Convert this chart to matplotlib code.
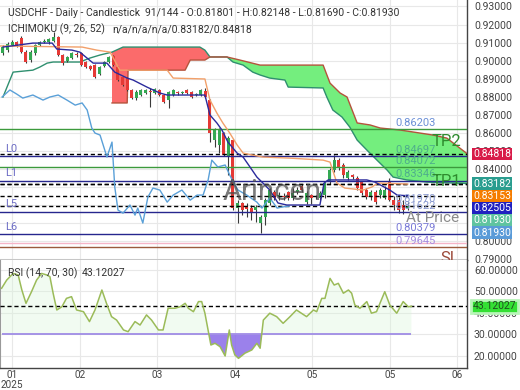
import numpy as np
import matplotlib
matplotlib.use("Agg")
import matplotlib.pyplot as plt
from matplotlib.transforms import blended_transform_factory

plt.rcParams['font.family'] = ['Roboto', 'DejaVu Sans']

# daily candles USDCHF
opens = [0.9042, 0.9058, 0.9086, 0.9103, 0.9125, 0.9047, 0.9003, 0.9042, 0.9086, 0.9103,
         0.9103, 0.9108, 0.9131, 0.9031, 0.8997, 0.9014, 0.9036, 0.9042, 0.8992, 0.8970,
         0.8975, 0.8925, 0.8970, 0.8992, 0.9025, 0.8964, 0.8909, 0.8903, 0.8837, 0.8792,
         0.8809, 0.8820, 0.8831, 0.8820, 0.8837, 0.8809, 0.8781, 0.8809, 0.8826, 0.8820,
         0.8837, 0.8826, 0.8809, 0.8809, 0.8831, 0.8781, 0.8559, 0.8532, 0.8598, 0.8465,
         0.8559, 0.8182, 0.8210, 0.8188, 0.8182, 0.8171, 0.8099, 0.8132, 0.8210, 0.8271,
         0.8249, 0.8249, 0.8271, 0.8238, 0.8271, 0.8304, 0.8215, 0.8254, 0.8249, 0.8238,
         0.8254, 0.8326, 0.8393, 0.8448, 0.8421, 0.8349, 0.8365, 0.8349, 0.8326, 0.8282,
         0.8243, 0.8271, 0.8254, 0.8238, 0.8326, 0.8226, 0.8226, 0.8199, 0.81801]
closes = [0.9075, 0.9092, 0.9103, 0.9086, 0.9047, 0.8992, 0.9047, 0.9086, 0.9103, 0.9108,
          0.9119, 0.9131, 0.9031, 0.8986, 0.9020, 0.9042, 0.9031, 0.8975, 0.8964, 0.8953,
          0.8909, 0.8964, 0.8992, 0.9020, 0.8975, 0.8892, 0.8864, 0.8837, 0.8792, 0.8826,
          0.8837, 0.8837, 0.8826, 0.8842, 0.8809, 0.8770, 0.8826, 0.8837, 0.8820, 0.8826,
          0.8820, 0.8798, 0.8815, 0.8837, 0.8798, 0.8598, 0.8615, 0.8615, 0.8476, 0.8570,
          0.8182, 0.8210, 0.8171, 0.8177, 0.8154, 0.8188, 0.8132, 0.8226, 0.8282, 0.8238,
          0.8254, 0.8243, 0.8238, 0.8265, 0.8282, 0.8282, 0.8265, 0.8238, 0.8243, 0.8265,
          0.8321, 0.8393, 0.8448, 0.8410, 0.8365, 0.8382, 0.8354, 0.8293, 0.8265, 0.8243,
          0.8271, 0.8215, 0.8282, 0.8282, 0.8226, 0.8199, 0.8171, 0.8171, 0.81930]
highs = [0.9086, 0.9103, 0.9114, 0.9108, 0.9136, 0.9058, 0.9058, 0.9092, 0.9108, 0.9119,
         0.9125, 0.9158, 0.9136, 0.9036, 0.9025, 0.9047, 0.9047, 0.9047, 0.8997, 0.8975,
         0.8981, 0.8970, 0.8997, 0.9025, 0.9031, 0.8970, 0.8914, 0.8909, 0.8842, 0.8837,
         0.8842, 0.8842, 0.8848, 0.8848, 0.8842, 0.8815, 0.8831, 0.8842, 0.8831, 0.8831,
         0.8842, 0.8831, 0.8820, 0.8842, 0.8848, 0.8787, 0.8626, 0.8626, 0.8604, 0.8581,
         0.8565, 0.8226, 0.8215, 0.8210, 0.8199, 0.8199, 0.8143, 0.8238, 0.8293, 0.8282,
         0.8271, 0.8265, 0.8276, 0.8293, 0.8299, 0.8315, 0.8276, 0.8260, 0.8254, 0.8276,
         0.8326, 0.8404, 0.8476, 0.8459, 0.8432, 0.8393, 0.8371, 0.8360, 0.8332, 0.8293,
         0.8282, 0.8282, 0.8293, 0.8304, 0.8348, 0.8249, 0.8243, 0.8226, 0.82148]
lows = [0.9031, 0.9047, 0.9081, 0.9075, 0.9042, 0.8986, 0.8992, 0.9031, 0.9081, 0.9097,
        0.9092, 0.9103, 0.9025, 0.8975, 0.8992, 0.9008, 0.9020, 0.8970, 0.8959, 0.8947,
        0.8903, 0.8920, 0.8964, 0.8986, 0.8970, 0.8887, 0.8859, 0.8831, 0.8787, 0.8781,
        0.8803, 0.8815, 0.8742, 0.8815, 0.8803, 0.8765, 0.8737, 0.8803, 0.8809, 0.8815,
        0.8815, 0.8792, 0.8803, 0.8803, 0.8792, 0.8548, 0.8520, 0.8487, 0.8470, 0.8365,
        0.8171, 0.8099, 0.8143, 0.8132, 0.8115, 0.8104, 0.8044, 0.8088, 0.8199, 0.8226,
        0.8226, 0.8226, 0.8226, 0.8226, 0.8260, 0.8271, 0.8204, 0.8204, 0.8232, 0.8226,
        0.8238, 0.8315, 0.8382, 0.8393, 0.8349, 0.8338, 0.8343, 0.8282, 0.8254, 0.8232,
        0.8226, 0.8204, 0.8238, 0.8232, 0.8221, 0.8171, 0.8154, 0.8149, 0.81690]

# ichimoku lines (bar index, price)
tenkan_x = [0, 6.5, 10.7, 11.7, 15.0, 16.7, 19.6, 22.6, 24.3, 27.0, 28.3, 31.3, 34.1, 35.7, 43.9,
            45.0, 46.5, 47.6, 48.9, 50.9, 52.2, 53.7, 55.2, 56.5, 58.0, 59.8, 61.7, 68.9, 69.8,
            70.7, 79.1, 80.9, 84.1, 85.7, 88.0]
tenkan_y = [0.9075, 0.9097, 0.9097, 0.9064, 0.9058, 0.9047, 0.8986, 0.8986, 0.8936, 0.8903,
            0.8892, 0.8853, 0.8820, 0.8809, 0.8809, 0.8698, 0.8654, 0.8615, 0.8548, 0.8487,
            0.8465, 0.8410, 0.8354, 0.8321, 0.8282, 0.8210, 0.8199, 0.8199, 0.8321, 0.8338,
            0.8338, 0.8326, 0.8282, 0.8254, 0.82505]
kijun_x = [-0.6, 17.2, 20.4, 23.3, 25.4, 35.7, 37.0, 43.9, 45.0, 46.5, 47.8, 49.3, 50.9, 52.2,
           54.3, 56.5, 62.4, 69.6, 71.1, 72.6, 74.3, 78.3, 80.2, 81.5, 88.0]
kijun_y = [0.9081, 0.9075, 0.9058, 0.9047, 0.8947, 0.8947, 0.8903, 0.8898, 0.8781, 0.8709,
           0.8654, 0.8598, 0.8532, 0.8487, 0.8476, 0.8465, 0.8459, 0.8448, 0.8437, 0.8321,
           0.8293, 0.8282, 0.8299, 0.8321, 0.83153]
chikou_x = [-0.2, 1.5, 3.0, 4.3, 6.5, 8.7, 10.2, 12.0, 13.9, 15.7, 17.2, 18.3, 19.3, 20.0, 21.1,
            22.6, 23.7, 24.3, 25.0, 26.1, 27.6, 28.7, 29.3, 30.4, 31.5, 32.6, 34.1, 35.7, 37.0,
            38.9, 40.7, 42.2, 43.5, 44.6, 45.4, 46.7, 48.3, 49.3, 50.4, 51.1, 53.0, 55.2, 56.3,
            58.0, 59.6, 60.7, 62.2]
chikou_y = [0.8798, 0.8837, 0.8814, 0.8792, 0.8809, 0.8781, 0.8798, 0.8809, 0.8781, 0.8753,
            0.8765, 0.8726, 0.8626, 0.8598, 0.8587, 0.8465, 0.8548, 0.8299, 0.8171, 0.8154,
            0.8199, 0.8143, 0.8182, 0.8099, 0.8243, 0.8293, 0.8282, 0.8215, 0.8254, 0.8282,
            0.8226, 0.8254, 0.8254, 0.8338, 0.8448, 0.8410, 0.8421, 0.8365, 0.8310, 0.8282,
            0.8254, 0.8215, 0.8182, 0.8238, 0.8182, 0.8188, 0.8193]
span_a_x = [0, 2.2, 6.5, 8.0, 9.6, 10.9, 16.7, 18.9, 21.1, 23.7, 26.1, 42.8, 43.9, 45.0, 48.7,
            50.0, 52.2, 54.3, 55.9, 58.0, 61.3, 62.0, 69.6, 70.4, 71.7, 73.7, 75.4, 77.0, 79.1,
            81.3, 83.5, 84.8, 87.8, 92.2, 101.0]
span_a_y = [0.8798, 0.8936, 0.8947, 0.8964, 0.8986, 0.8992, 0.8992, 0.9014, 0.9031, 0.9047,
            0.9075, 0.9075, 0.9058, 0.9020, 0.9020, 0.8992, 0.8975, 0.8936, 0.8920, 0.8903,
            0.8892, 0.8853, 0.8848, 0.8798, 0.8726, 0.8687, 0.8631, 0.8559, 0.8504, 0.8448,
            0.8393, 0.8354, 0.8338, 0.8326, 0.83182]
span_b_x = [23.7, 27.0, 27.2, 39.6, 40.7, 43.9, 45.0, 48.7, 51.5, 55.9, 69.6, 71.1, 73.3, 74.8,
            77.0, 79.8, 82.0, 86.3, 93.5, 96.5, 99.3, 101.0]
span_b_y = [0.8765, 0.8765, 0.8947, 0.8947, 0.9003, 0.9003, 0.9020, 0.9020, 0.9003, 0.8975,
            0.8975, 0.8875, 0.8820, 0.8798, 0.8654, 0.8643, 0.8626, 0.8615, 0.8587, 0.8570,
            0.8515, 0.84818]
cloud_cross = 45.0

# horizontal levels
navy_levels = [0.84697, 0.83346, 0.81622, 0.80379]
green_levels = [0.86203, 0.84072]
current_vals = [0.84818, 0.83182, 0.83153, 0.82505, 0.81930]
level_labels = [("0.86203", 0.86203, '#6b8fd6'), ("0.84697", 0.84697, '#4fae8c'),
                ("0.84072", 0.84072, '#4fae8c'), ("0.83346", 0.83346, '#4fae8c'),
                ("0.81970", 0.81970, '#8a9ad0'), ("0.81622", 0.81622, '#8a9ad0'),
                ("0.80379", 0.80379, '#7b7bd8'), ("0.79645", 0.79645, '#a68be0')]
side_labels = [("L0", 0.84697), ("L1", 0.83346), ("L5", 0.81622), ("L6", 0.80379)]

# right axis value boxes
box_vals = [0.84818, 0.83182, 0.83153, 0.82505, 0.81930, 0.81930]
box_cols = ['#d81b48', '#2a9d8f', '#f57c00', '#2020c0', '#5fc4a0', '#5a9bd8']

# RSI
rsi_x = [-0.3, 0.8, 2.2, 3.3, 4.1, 5.0, 6.2, 7.3, 8.4, 9.5, 10.2, 10.9, 11.7, 12.8, 13.8, 14.9,
         16.0, 17.5, 18.8, 20.0, 21.5, 22.5, 23.6, 24.7, 26.2, 27.2, 28.7, 29.8, 31.2, 32.3,
         33.8, 34.8, 35.9, 37.4, 38.5, 39.6, 40.3, 41.4, 42.5, 43.2, 43.9, 45.2, 46.1, 47.2,
         48.3, 49.2, 49.7, 50.4, 51.2, 52.6, 54.1, 55.2, 55.9, 56.6, 58.0, 59.5, 60.9, 62.4,
         63.8, 66.0, 67.5, 68.2, 69.3, 70.0, 71.1, 72.0, 72.9, 74.0, 75.1, 75.8, 76.5, 77.6,
         79.1, 80.1, 81.2, 83.0, 84.1, 85.6, 87.0, 88.1, 88.8]
rsi_y = [51.5, 55.3, 58.4, 57.7, 50.7, 44.5, 49.9, 55.3, 58.4, 57.7, 56.9, 49.2, 41.4, 42.9,
         46.8, 47.6, 41.4, 40.6, 36.0, 41.4, 50.7, 44.5, 38.3, 36.7, 32.1, 31.3, 36.0, 34.4,
         39.1, 36.7, 32.1, 32.1, 42.2, 42.2, 42.9, 44.5, 42.2, 40.6, 45.3, 45.3, 39.9, 25.1,
         25.9, 24.3, 20.0, 32.1, 25.1, 20.5, 18.9, 21.3, 22.8, 25.9, 23.6, 36.7, 39.9, 38.3,
         35.2, 38.3, 41.4, 38.3, 41.4, 40.6, 46.8, 46.8, 56.1, 53.0, 53.8, 49.2, 50.7, 49.2,
         43.7, 42.2, 45.3, 39.9, 40.6, 49.9, 43.7, 39.9, 45.3, 42.9, 43.12]
rsi_last = 43.12027

month_pos = [2.0, 16.7, 33.5, 50.4, 67.2, 84.1, 98.7]
month_lab = ["01\n2025", "02", "03", "04", "05", "05", "06"]

fig = plt.figure(figsize=(5.2, 3.9), dpi=100)
ax = fig.add_axes([0, 0.3333, 0.898, 0.6667])
ax2 = fig.add_axes([0, 0.0564, 0.898, 0.2769], sharex=ax)
ax.set_xlim(-0.65, 100.87)
ax.set_ylim(0.7894, 0.9336)
ax2.set_ylim(14.4, 64.65)

for a in (ax, ax2):
    a.grid(True, color='#e8e8e8', lw=0.8, zorder=0)
    a.set_axisbelow(True)
    a.yaxis.tick_right()
    a.tick_params(axis='both', length=0, labelsize=7.5, labelcolor='#444444', pad=5)
    a.spines['left'].set_visible(False)
    a.spines['top'].set_visible(False)
    for s in ('right', 'bottom'):
        a.spines[s].set_color('#444444')
        a.spines[s].set_linewidth(1)
ax2.spines['left'].set_visible(True)
ax2.spines['left'].set_color('#999999')

# price ticks; the ones hidden behind the value boxes get no label
price_ticks = np.round(np.arange(0.79, 0.935, 0.01), 2)
hidden_ticks = [0.81, 0.82, 0.83]
ax.set_yticks(price_ticks)
ax.set_yticklabels(["" if t in hidden_ticks else f"{t:.5f}" for t in price_ticks])
ax2.set_yticks([20, 30, 40, 50, 60])
ax2.yaxis.set_major_formatter(matplotlib.ticker.FormatStrFormatter('%.5f'))
ax2.set_xticks(month_pos)
ax2.set_xticklabels(month_lab, linespacing=0.95)
ax2.tick_params(axis='x', pad=1.5, labelsize=7.2)
ax.tick_params(axis='x', labelbottom=False)

# cloud
sa_x, sa_y = np.array(span_a_x), np.array(span_a_y)
sb_x, sb_y = np.array(span_b_x), np.array(span_b_y)
ra = (sa_x >= sb_x[0]) & (sa_x <= cloud_cross)
rb = sb_x <= cloud_cross
ax.fill(np.r_[sa_x[ra], sb_x[rb][::-1]], np.r_[sa_y[ra], sb_y[rb][::-1]],
        color='#fb6b6b', lw=0, zorder=1)
ga = sa_x >= cloud_cross
gb = sb_x >= cloud_cross
ax.fill(np.r_[sb_x[gb], sa_x[ga][::-1]], np.r_[sb_y[gb], sa_y[ga][::-1]],
        color='#74ee7e', lw=0, zorder=1)

# levels
for v in green_levels:
    ax.axhline(v, color='#3c9a3c', lw=1, zorder=3)
for v in navy_levels:
    ax.axhline(v, color='#26268e', lw=1, zorder=3)
for v in current_vals:
    ax.axhline(v, color='black', lw=1, ls=(0, (3, 2)), zorder=3)
ax.axhline(0.7990, color='#f5b5c8', lw=1, zorder=3)
ax.axhline(0.79645, color='#9c5a3c', lw=1, zorder=3)

# candles
o, c, h, l = map(np.array, (opens, closes, highs, lows))
x = np.arange(len(c))
cols = np.where(c >= o, '#34a853', '#e53935')
ax.vlines(x, l, h, color='#3a3a3a', lw=0.8, zorder=2)
ax.bar(x, np.maximum(np.abs(c - o), 0.00018), bottom=np.minimum(o, c), width=0.65,
       color=cols, zorder=2.1)

# ichimoku lines
ax.plot(span_a_x, span_a_y, color='#2f8f6f', lw=1, zorder=1.5)
ax.plot(span_b_x, span_b_y, color='#b5533c', lw=1, zorder=1.5)
ax.plot(chikou_x, chikou_y, color='#5aa0d8', lw=1, zorder=4)
ax.plot(kijun_x, kijun_y, color='#f2a06a', lw=1, zorder=4)
ax.plot(tenkan_x, tenkan_y, color='#2a2a9c', lw=1, zorder=4)

trans = blended_transform_factory(ax.transAxes, ax.transData)
for txt, v, col in level_labels:
    ax.text(0.846, v + 0.0006, txt, transform=trans, color=col, fontsize=8,
            va='bottom', ha='left', zorder=6)
for txt, v in side_labels:
    ax.text(0.012, v + 0.0012, txt, transform=trans, color='#6b6bc4', fontsize=8,
            va='bottom', ha='left', zorder=6)
ax.text(0.955, 0.8554, "TP2", transform=trans, color='#2e8b2e', fontsize=12, ha='center',
        va='center', zorder=6)
ax.text(0.955, 0.8332, "TP1", transform=trans, color='#2e8b2e', fontsize=12, ha='center',
        va='center', zorder=6)
ax.text(0.927, 0.8127, "At Price", transform=trans, color='#8a8a8a', fontsize=11,
        ha='center', va='center', zorder=6)
ax.text(0.962, 0.7905, "SL", transform=trans, color='#9c4a3a', fontsize=12, ha='center',
        va='center', zorder=6, clip_on=True)
ax.text(0.582, 0.8271, "Arincen", transform=trans, color='#4d4d4d', alpha=0.75,
        fontsize=21, ha='center', va='center', zorder=6)

# stacked value boxes
bh = 0.0068
prev = None
for v, col in zip(box_vals, box_cols):
    pos = v if prev is None else min(v, prev - bh)
    prev = pos
    ax.text(1.013, pos, f"{v:.5f}", transform=trans, color='white', fontsize=7.5,
            va='center', ha='left', clip_on=False, zorder=10,
            bbox=dict(boxstyle='square,pad=0.12', fc=col, ec='none'))

# RSI panel
rx, ry = np.array(rsi_x), np.array(rsi_y)
ax2.fill_between(rx, ry, 30, where=ry >= 30, interpolate=True, color='#d8f5d8', alpha=0.35,
                 lw=0, zorder=1)
ax2.fill_between(rx, ry, 30, where=ry < 30, interpolate=True, color='#8a6be8', alpha=0.85,
                 lw=0, zorder=1)
ax2.hlines(30, rx[0], rx[-1], color='#a08ce6', lw=1.3, zorder=2)
ax2.axhline(rsi_last, color='black', lw=1, ls=(0, (3, 2)), zorder=3)
ax2.plot(rx, ry, color='#9bbb59', lw=1.1, zorder=4)
trans2 = blended_transform_factory(ax2.transAxes, ax2.transData)
ax2.text(1.013, rsi_last, f"{rsi_last:.5f}", transform=trans2, color='#1f4f1f', fontsize=7.5,
         va='center', ha='left', clip_on=False, zorder=10,
         bbox=dict(boxstyle='square,pad=0.15', fc='#33e033', ec='#b8f5b8', lw=2))

# header texts
def ftxt(px, py, s, **kw):
    fig.text(px / 520, 1 - py / 390, s, va='center', ha='left', fontsize=7.5,
             color='#333333', **kw)

ftxt(8, 12.5, "USDCHF - Daily - Candlestick")
ftxt(145, 12.5, "91/144 - O:0.81801 - H:0.82148 - L:0.81690 - C:0.81930")
ftxt(8, 29.5, "ICHIMOKU (9, 26, 52)")
ftxt(112, 29.5, "n/a/n/a/n/a/0.83182/0.84818")
ftxt(8, 273.5, "RSI (14, 70, 30)")
ftxt(82, 273.5, "43.12027")

fig.savefig("out.png", dpi=100)
